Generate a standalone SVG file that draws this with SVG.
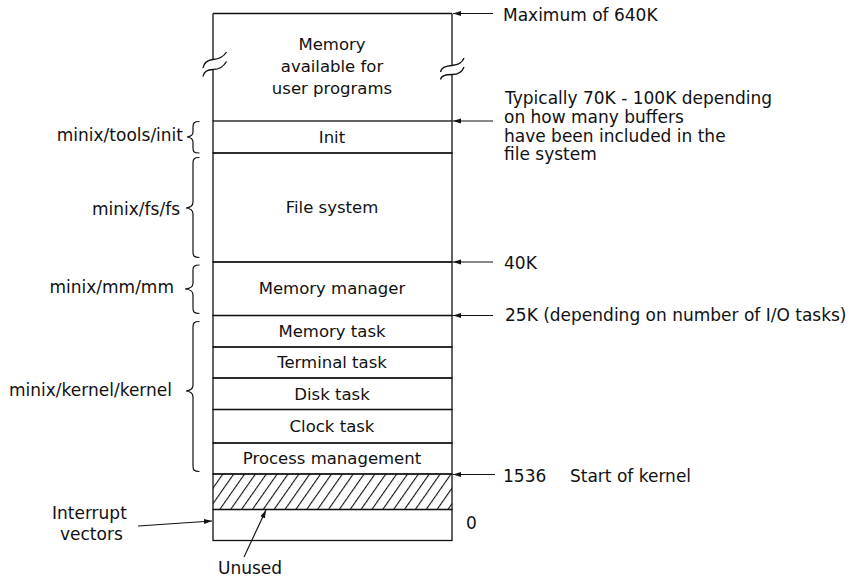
<svg xmlns="http://www.w3.org/2000/svg" width="853" height="579" viewBox="0 0 853 579">
<style>
.ln{fill:none;stroke:#111;stroke-width:1.3}
.br{fill:none;stroke:#111;stroke-width:1.2}
.ar{fill:none;stroke:#111;stroke-width:1.1}
.t{font-family:"DejaVu Sans","Liberation Sans",sans-serif;font-size:17px;fill:#111}
.b{font-family:"DejaVu Sans","Liberation Sans",sans-serif;font-size:16.5px;fill:#111;text-anchor:middle}
.r{text-anchor:end}
</style>
<defs>
<marker id="ah" viewBox="0 0 8 6" refX="8" refY="3" markerWidth="8" markerHeight="6" markerUnits="userSpaceOnUse" orient="auto">
<path d="M0,0.5 L8,3 L0,5.5 z" fill="#111"/>
</marker>
<pattern id="hatch" patternUnits="userSpaceOnUse" width="8.9" height="8.9" patternTransform="rotate(35)">
<line x1="0" y1="-1" x2="0" y2="10" stroke="#111" stroke-width="2.2"/>
</pattern>
</defs>
<rect width="853" height="579" fill="#fff"/>

<g id="user-programs">
<path class="ln" d="M213,13.5 H452 M213,13.5 V59.5 M213,69.5 V121 M452,13.5 V65.5 M452,74.5 V121"/>
<path class="ln" d="M203,68 C204,62 208,60 213,59.5 S223,58 226.5,52"/>
<path class="ln" d="M203,76.5 C204,71 208,69.5 213,69.5 S223,67.5 226.5,61.5"/>
<path class="ln" d="M440.5,72 C441.5,67 446,66 452,65.5 S462,63.5 464,58"/>
<path class="ln" d="M440.5,79.5 C441.5,75 446,74.5 452,74.5 S462,72.5 464,67"/>
<text class="b" x="332" y="50">Memory</text>
<text class="b" x="332" y="72">available for</text>
<text class="b" x="332" y="93.5">user programs</text>
</g>

<g id="init">
<rect class="ln" x="213" y="121" width="239" height="32"/>
<text class="b" x="332" y="143">Init</text>
</g>

<g id="file-system">
<rect class="ln" x="213" y="153" width="239" height="109"/>
<text class="b" x="332" y="213">File system</text>
</g>

<g id="memory-manager">
<rect class="ln" x="213" y="262" width="239" height="53.5"/>
<text class="b" x="332" y="294">Memory manager</text>
</g>

<g id="memory-task">
<rect class="ln" x="213" y="315.5" width="239" height="31.5"/>
<text class="b" x="332" y="336.5">Memory task</text>
</g>

<g id="terminal-task">
<rect class="ln" x="213" y="347" width="239" height="31"/>
<text class="b" x="332" y="368">Terminal task</text>
</g>

<g id="disk-task">
<rect class="ln" x="213" y="378" width="239" height="31.5"/>
<text class="b" x="332" y="399.5">Disk task</text>
</g>

<g id="clock-task">
<rect class="ln" x="213" y="409.5" width="239" height="33.5"/>
<text class="b" x="332" y="431.5">Clock task</text>
</g>

<g id="process-management">
<rect class="ln" x="213" y="443" width="239" height="31"/>
<text class="b" x="332" y="464">Process management</text>
</g>

<g id="unused-area">
<rect x="213" y="474" width="239" height="35.5" fill="url(#hatch)"/>
<rect class="ln" x="213" y="474" width="239" height="35.5"/>
</g>

<g id="interrupt-vectors-area">
<rect class="ln" x="213" y="509.5" width="239" height="31"/>
</g>

<g id="braces">
<path class="br" d="M199.5,121.5 C194,121.5 193,123 193,127 L193,132 C193,135 191,136.5 187,137 C191,137.5 193,139 193,142 L193,148 C193,152 194,153 199.5,153"/>
<path class="br" d="M199.5,157.5 C194,157.5 193,159 193,163 L193,202 C193,206 191,207.5 186,208 C191,208.5 193,210 193,214 L193,252 C193,256 194,257.5 199.5,257.5"/>
<path class="br" d="M199.5,265 C194,265 193,266.5 193,270 L193,283 C193,287 191,288.5 185,289 C191,289.5 193,291 193,295 L193,308 C193,312 194,313.5 199.5,313.5"/>
<path class="br" d="M199.5,321.5 C194,321.5 193,323 193,327 L193,385 C193,389 191,390.5 186,391 C191,391.5 193,393 193,397 L193,466 C193,470 194,471.5 199.5,471.5"/>
</g>

<g id="left-labels">
<text class="t r" x="183" y="141">minix/tools/init</text>
<text class="t r" x="180" y="214.5">minix/fs/fs</text>
<text class="t r" x="174" y="293">minix/mm/mm</text>
<text class="t r" x="172" y="396">minix/kernel/kernel</text>
<text class="t" x="52" y="519">Interrupt</text>
<text class="t" x="60" y="539.5">vectors</text>
<text class="t" x="218" y="574">Unused</text>
</g>

<g id="right-labels">
<text class="t" x="503" y="20.5">Maximum of 640K</text>
<text class="t" x="505" y="103.5">Typically 70K - 100K depending</text>
<text class="t" x="504" y="123">on how many buffers</text>
<text class="t" x="504" y="141.5">have been included in the</text>
<text class="t" x="504" y="160">file system</text>
<text class="t" x="504" y="268.5">40K</text>
<text class="t" x="505" y="321">25K (depending on number of I/O tasks)</text>
<text class="t" x="503" y="481.5">1536</text>
<text class="t" x="570" y="481.5">Start of kernel</text>
<text class="t" x="466" y="528.5">0</text>
</g>

<g id="connectors">
<line class="ar" x1="493" y1="13.5" x2="453" y2="13.5" marker-end="url(#ah)"/>
<line class="ar" x1="493" y1="121" x2="453" y2="121" marker-end="url(#ah)"/>
<line class="ar" x1="493" y1="262" x2="453" y2="262" marker-end="url(#ah)"/>
<line class="ar" x1="493" y1="315.5" x2="453" y2="315.5" marker-end="url(#ah)"/>
<line class="ar" x1="495" y1="474.5" x2="453" y2="474.5" marker-end="url(#ah)"/>
<line class="ar" x1="138" y1="526" x2="212" y2="521" marker-end="url(#ah)"/>
<line class="ar" x1="244" y1="557" x2="266" y2="510" marker-end="url(#ah)"/>
</g>
</svg>
